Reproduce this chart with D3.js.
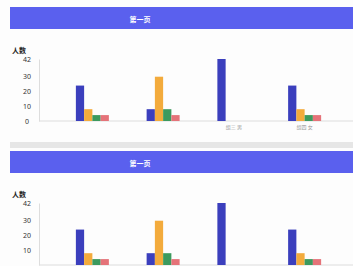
<!DOCTYPE html>
<html>
<head>
<meta charset="utf-8">
<script src="https://cdn.jsdelivr.net/npm/d3@7"></script>
<style>
  html, body { margin: 0; padding: 0; background: #fdfdfd; overflow: hidden; }
  svg { display: block; font-family: "Noto Sans CJK SC", "Noto Sans", sans-serif; }
</style>
</head>
<body>
<div id="chart"></div>
<script>
const categories = ["组一", "组二", "组三 男", "组四 女"];
const catLabels = ["", "", "组三 男", "组四 女"];
const seriesNames = ["A", "B", "C", "D"];
const seriesValues = [
    [24, 8, 42, 24],   // blue
    [8, 30, 0, 8],     // orange
    [4, 8, 0, 4],      // green
    [4, 4, 0, 4]       // red
];
const yTicks = [0, 10, 20, 30, 42];
const pageTitle = "第一页";
const yTitle = "人数";
const cardOffsets = [0, 144];

const width = 353, height = 266;
const colors = ["#3b3fbd", "#f3ab3c", "#3c9a5e", "#e57379"];

const svg = d3.select("#chart").append("svg")
    .attr("width", width)
    .attr("height", height);

const y = d3.scaleLinear().domain([0, 42]).range([121, 59]);
const x0 = d3.scaleBand().domain(categories).range([57, 340]);
const x1 = d3.scaleBand().domain(seriesNames).range([0, 33]);

function drawCard(offset) {
    const g = svg.append("g").attr("transform", `translate(0,${offset})`);
    // texts that would be cut at the bottom edge are left out
    const fits = yy => offset + yy + 2 < height;

    // grey separator below the card
    g.append("rect")
        .attr("x", 10).attr("y", 142)
        .attr("width", width).attr("height", 6)
        .attr("fill", "#e6e6e6");

    // title banner
    g.append("rect")
        .attr("x", 10).attr("y", 7)
        .attr("width", width).attr("height", 22)
        .attr("fill", "#5a60ee");
    g.append("text")
        .attr("x", 140).attr("y", 21.5)
        .attr("text-anchor", "middle")
        .style("font-size", "7px")
        .style("font-weight", "bold")
        .style("fill", "#fff")
        .text(pageTitle);

    // y axis title
    g.append("text")
        .attr("x", 12).attr("y", 53)
        .style("font-size", "7px")
        .style("font-weight", "bold")
        .style("fill", "#222")
        .text(yTitle);

    // y axis
    const yAxis = g.append("g")
        .attr("transform", "translate(39,0)")
        .call(d3.axisLeft(y).tickValues(yTicks.filter(t => fits(y(t) + 3))).tickSize(0).tickPadding(9));
    yAxis.select(".domain").attr("stroke", "#ddd");
    yAxis.selectAll("text")
        .attr("text-anchor", "middle")
        .style("font-size", "7px")
        .style("font-family", "Noto Sans, sans-serif")
        .style("fill", "#333")
        .attr("x", -12);

    // baseline
    g.append("line")
        .attr("x1", 39).attr("x2", width)
        .attr("y1", y(0)).attr("y2", y(0))
        .attr("stroke", "#ddd");

    // bars
    categories.forEach((c, ci) => {
        const grp = g.append("g")
            .attr("transform", `translate(${x0(c) + x0.bandwidth() / 2 - 16.5},0)`);
        seriesNames.forEach((s, si) => {
            const v = seriesValues[si][ci];
            if (!v) return;
            grp.append("rect")
                .attr("x", x1(s))
                .attr("y", y(v))
                .attr("width", x1.bandwidth())
                .attr("height", y(0) - y(v))
                .attr("fill", colors[si]);
        });
        if (fits(129)) {
            g.append("text")
                .attr("x", x0(c) + x0.bandwidth() / 2)
                .attr("y", 129)
                .attr("text-anchor", "middle")
                .style("font-size", "5px")
                .style("fill", "#999")
                .text(catLabels[ci]);
        }
    });
}

cardOffsets.forEach(drawCard);
</script>
</body>
</html>
